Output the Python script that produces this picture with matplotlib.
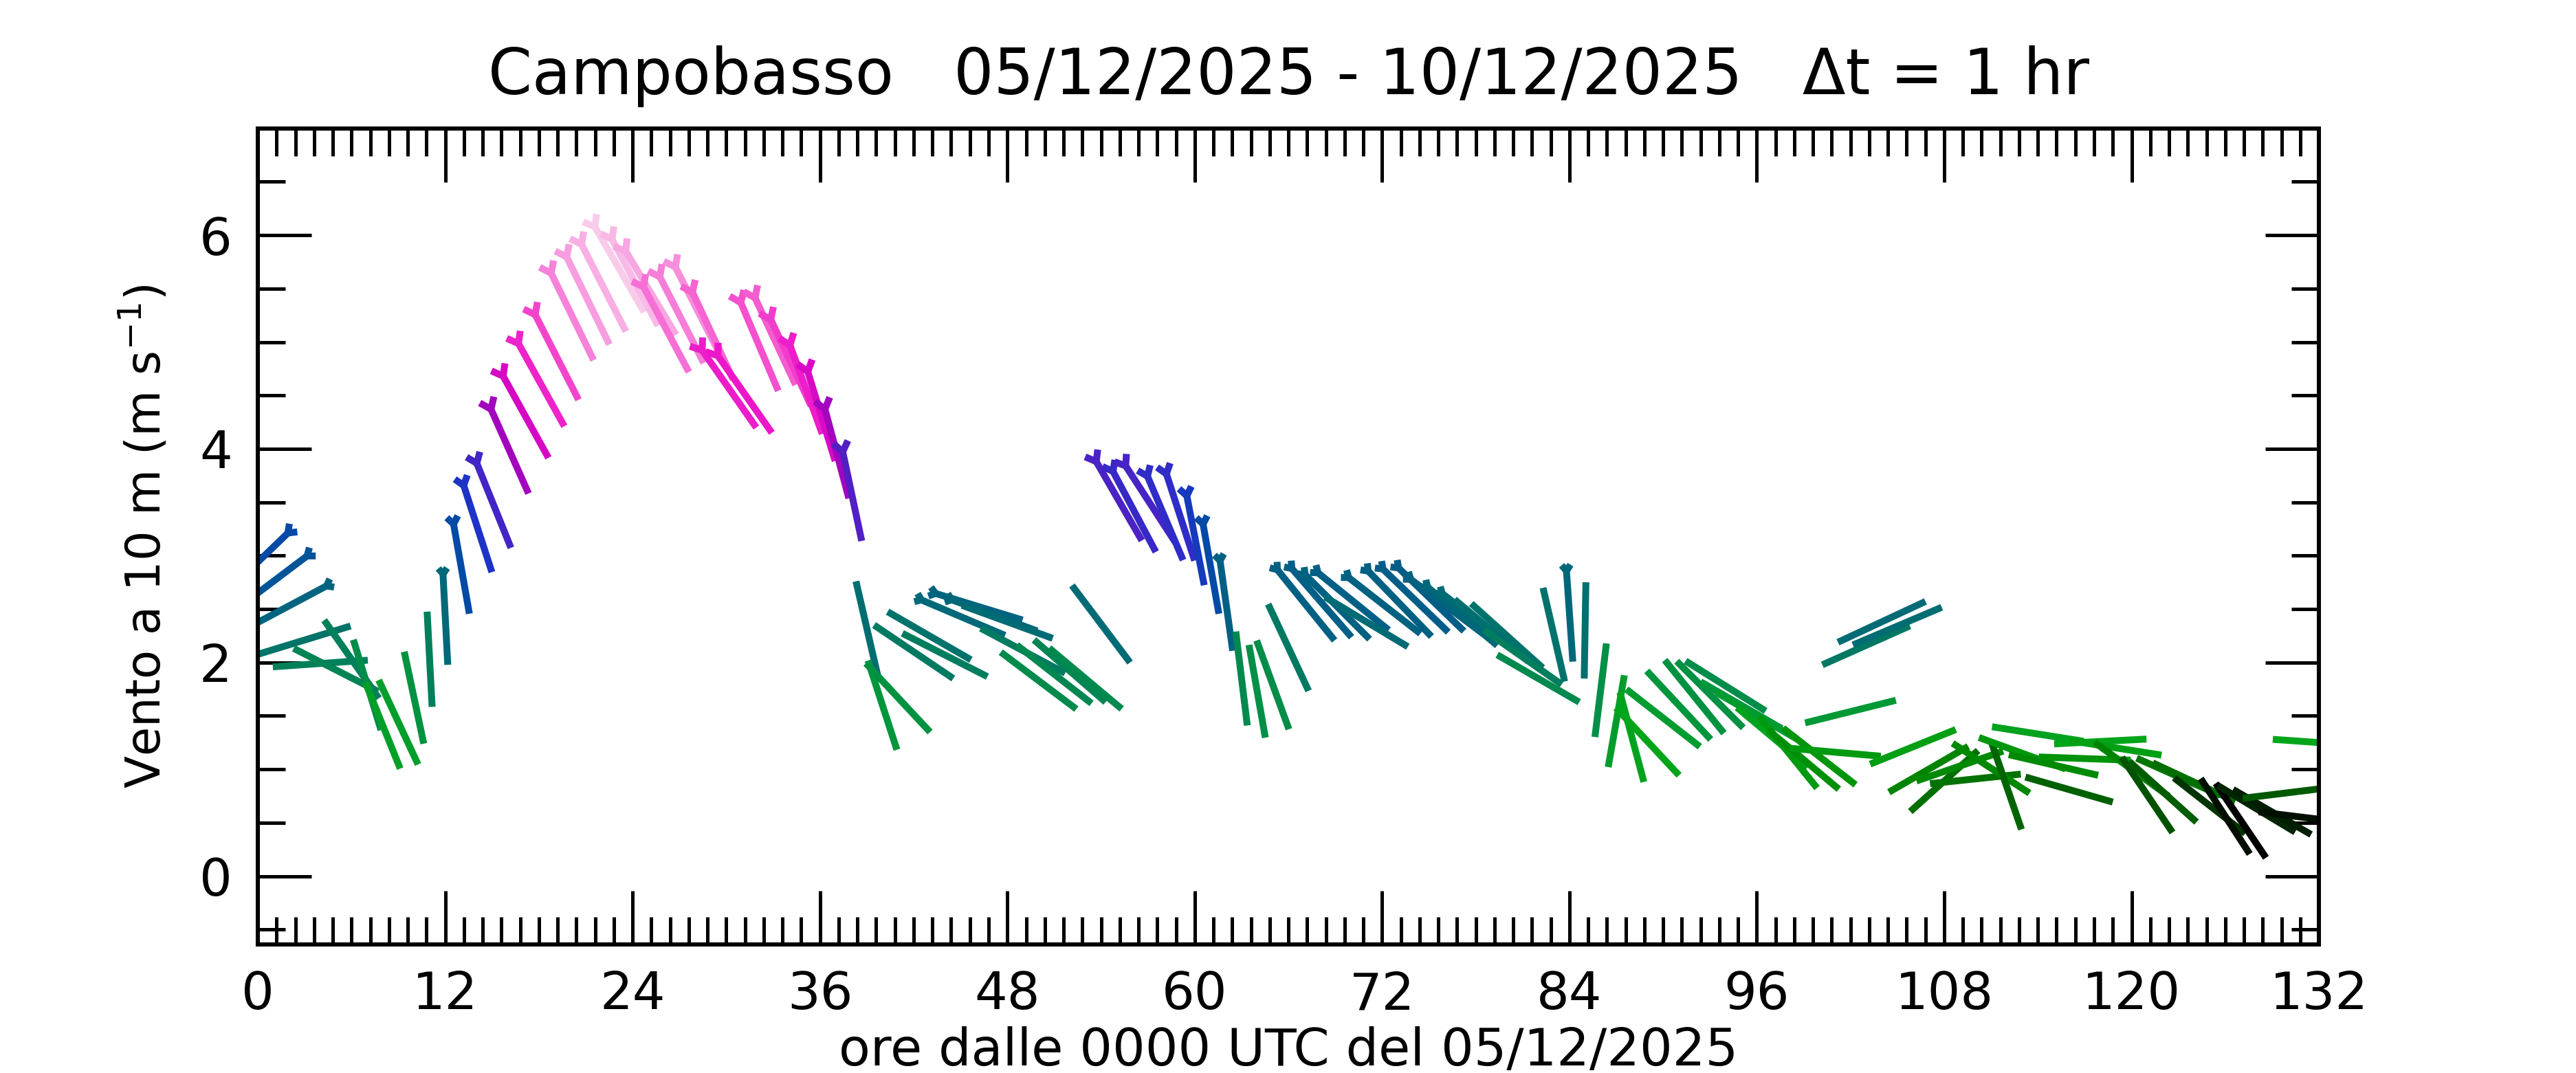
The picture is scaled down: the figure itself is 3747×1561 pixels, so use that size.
import numpy as np
import matplotlib
matplotlib.use("Agg")
import matplotlib.pyplot as plt
import matplotlib.transforms as mtransforms
from matplotlib.collections import LineCollection
from matplotlib.colors import LinearSegmentedColormap, Normalize
from matplotlib.ticker import MultipleLocator

# ore dalle 0000 UTC del 05/12/2025, passo 1 h
ore = np.arange(0, 133)

# velocita' del vento a 10 m (m/s)
velocita = [
    2.94, 2.76, 2.53, 2.21, 1.99, 1.93, 2.03, 1.79, 1.41, 1.44,
    1.67, 2.03, 2.43, 2.91, 3.29, 3.51, 4.02, 4.34, 4.64, 4.90,
    5.28, 5.43, 5.55, 5.72, 5.60, 5.50, 5.16, 5.25, 5.34, 5.10,
    4.60, 4.55, 5.00, 5.05, 4.85, 4.60, 4.35, 4.00, 3.60, 2.32,
    1.60, 1.67, 2.10, 2.25, 2.07, 2.43, 2.53, 2.45, 2.38, 2.11,
    1.83, 1.89, 1.92, 1.85, 2.36, 3.55, 3.45, 3.52, 3.39, 3.40,
    3.18, 2.91, 2.56, 1.85, 1.73, 1.79, 2.14, 2.56, 2.58, 2.54,
    2.59, 2.38, 2.55, 2.57, 2.60, 2.61, 2.54, 2.45, 2.40, 2.30,
    2.25, 2.05, 1.85, 2.26, 2.46, 2.30, 1.74, 1.45, 1.30, 1.26,
    1.48, 1.60, 1.68, 1.70, 1.78, 1.60, 1.50, 1.30, 1.16, 1.09,
    1.12, 1.16, 1.54, 2.16, 2.38, 2.34, 1.21, 1.00, 0.89, 1.03,
    0.91, 1.01, 0.84, 1.15, 1.33, 1.04, 0.81, 1.10, 1.26, 1.20,
    1.00, 0.76, 0.79, 0.93, 0.88, 0.66, 0.56, 0.52, 0.63, 0.60,
    0.78, 0.55, 1.25,
]

# direzione di provenienza (gradi, 0 = N, senso orario)
direzione = [
    46, 53, 62, 73, 86, 297, 325, 343, 338, 335,
    348, 357, 357, 350, 342, 338, 336, 331, 331, 333,
    334, 334, 333, 330, 332, 329, 332, 333, 333, 335,
    325, 325, 337, 335, 335, 340, 343, 345, 348, 347,
    342, 317, 304, 300, 297, 293, 287, 290, 290, 298,
    307, 308, 311, 310, 323, 330, 332, 327, 337, 342,
    349, 350, 352, 353, 350, 340, 335, 321, 319, 315,
    309, 301, 308, 316, 314, 314, 307, 310, 308, 310,
    312, 305, 300, 347, 356, 1, 7, 10, 345, 317,
    308, 317, 321, 315, 302, 300, 300, 310, 321, 310,
    308, 275, 76, 66, 65, 67, 68, 60, 48, 71,
    84, 303, 341, 290, 279, 283, 286, 272, 87, 279,
    306, 326, 312, 294, 295, 308, 327, 326, 301, 300,
    83, 277, 274,
]

titolo = "Campobasso   05/12/2025 - 10/12/2025   \u0394t = 1 hr"

# scala colori per la velocita'
livelli = [0.5, 0.75, 1.0, 1.25, 1.6, 2.0, 2.5, 2.9, 3.3, 3.7, 4.1, 4.5, 5.0, 5.4, 5.8, 6.1]
colori = [(0, 0, 0), (0, 85, 0), (0, 135, 0), (0, 165, 25), (0, 150, 60), (0, 128, 90),
          (0, 100, 125), (0, 75, 165), (30, 50, 200), (100, 25, 195), (180, 0, 190),
          (235, 15, 200), (245, 80, 205), (247, 150, 222), (250, 215, 238), (253, 240, 248)]
vmin, vmax = livelli[0], livelli[-1]
cmap = LinearSegmentedColormap.from_list(
    "vento", [((l - vmin) / (vmax - vmin), tuple(c / 255 for c in col)) for l, col in zip(livelli, colori)])
norm = Normalize(vmin, vmax)

fig = plt.figure(figsize=(3747 / 300, 1561 / 300), dpi=300)
ax = fig.add_axes([0.1001, 0.1198, 0.8001, 0.7606])

vel = np.array(velocita)
rad = np.radians(direzione)
u = np.column_stack([np.sin(rad), np.cos(rad)])
nrm = np.column_stack([-u[:, 1], u[:, 0]])

# ogni freccia e' centrata sul punto (ora, velocita'), lunghezza in punti
segs, offs, cols = [], [], []
for i in range(len(ore)):
    L = 30.7 + 1.27 * vel[i]
    c = cmap(norm(vel[i]))
    coda = -0.5 * L * u[i]
    testa = 0.5 * L * u[i]
    if vel[i] >= 2.4:
        h = np.clip(2.0 + 1.2 * (vel[i] - 2.4), 2.0, 3.6)
        w = 0.75 * h
        J = testa - h * u[i]
        parti = [[coda, J], [J, testa + w * nrm[i]], [J, testa - w * nrm[i]]]
    else:
        parti = [[coda, testa]]
    for p in parti:
        segs.append(p)
        offs.append((ore[i], vel[i]))
        cols.append(c)

lc = LineCollection(segs, colors=cols, linewidths=2.4, capstyle="butt",
                    offsets=offs, offset_transform=ax.transData,
                    transform=mtransforms.Affine2D().scale(1 / 72.0) + fig.dpi_scale_trans)
ax.add_collection(lc, autolim=False)

ax.set_xlim(0, 132)
ax.set_ylim(-0.64, 7.0)
ax.set_xticks(np.arange(0, 133, 12))
ax.xaxis.set_minor_locator(MultipleLocator(1.2))
ax.set_yticks([0, 2, 4, 6])
ax.yaxis.set_minor_locator(MultipleLocator(0.5))
ax.tick_params(which="both", direction="in", top=True, right=True, width=1.2)
ax.tick_params(which="major", length=18.7, labelsize=18, pad=9)
ax.tick_params(which="minor", length=9.6)
for sp in ax.spines.values():
    sp.set_linewidth(1.45)

ax.set_title(titolo, fontsize=22, pad=12)
ax.set_xlabel("ore dalle 0000 UTC del 05/12/2025", fontsize=18, labelpad=2)
ax.set_ylabel(r"Vento a 10 m (m s$^{\mathregular{-1}}$)", fontsize=16.5, labelpad=10)

fig.savefig("out.png", dpi=300)
